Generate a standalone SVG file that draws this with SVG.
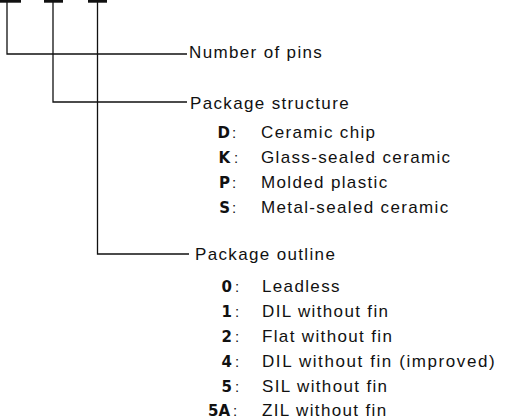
<svg xmlns="http://www.w3.org/2000/svg" width="521" height="420" viewBox="0 0 521 420">
<style>
.ln{stroke:#111;stroke-width:1.3;fill:none}
.bar{fill:#111}
.t{font-family:"Liberation Sans",Arial,sans-serif;font-size:17px;letter-spacing:1.35px;fill:#111}
.c{font-family:"DejaVu Sans",sans-serif;font-weight:bold;font-size:15px;fill:#111;text-anchor:end}
.k{font-family:"Liberation Sans",Arial,sans-serif;font-size:15px;fill:#111}
</style>
<rect width="521" height="420" fill="#fff"/>
<g id="connectors">
<rect class="bar" x="0" y="0" width="21" height="2.7"/>
<rect class="bar" x="44" y="0" width="19" height="2.7"/>
<rect class="bar" x="88" y="0" width="19" height="2.7"/>
<polyline class="ln" points="7,2 7,54 187,54"/>
<polyline class="ln" points="53,2 53,102 187,102"/>
<polyline class="ln" points="97.5,2 97.5,254 189,254"/>
</g>
<g id="pins">
<text class="t" x="189" y="58">Number of pins</text>
</g>
<g id="structure">
<text class="t" x="190" y="109">Package structure</text>
<text class="c" x="230" y="138">D</text><text class="k" x="232" y="138">:</text><text class="t" x="261" y="138">Ceramic chip</text>
<text class="c" x="230" y="163">K</text><text class="k" x="234" y="163">:</text><text class="t" x="261" y="163">Glass-sealed ceramic</text>
<text class="c" x="230" y="188">P</text><text class="k" x="232" y="188">:</text><text class="t" x="261" y="188">Molded plastic</text>
<text class="c" x="230" y="213">S</text><text class="k" x="232" y="213">:</text><text class="t" x="261" y="213">Metal-sealed ceramic</text>
</g>
<g id="outline">
<text class="t" x="195" y="260">Package outline</text>
<text class="c" x="232" y="292">0</text><text class="k" x="235" y="292">:</text><text class="t" x="262" y="292">Leadless</text>
<text class="c" x="232" y="317">1</text><text class="k" x="235" y="317">:</text><text class="t" x="262" y="317">DIL without fin</text>
<text class="c" x="232" y="342">2</text><text class="k" x="235" y="342">:</text><text class="t" x="262" y="342">Flat without fin</text>
<text class="c" x="232" y="367">4</text><text class="k" x="235" y="367">:</text><text class="t" x="262" y="367" textLength="234" lengthAdjust="spacing">DIL without fin (improved)</text>
<text class="c" x="232" y="392">5</text><text class="k" x="235" y="392">:</text><text class="t" x="262" y="392">SIL without fin</text>
<text class="c" x="230" y="416">5A</text><text class="k" x="233" y="416">:</text><text class="t" x="262" y="416">ZIL without fin</text>
</g>
</svg>
